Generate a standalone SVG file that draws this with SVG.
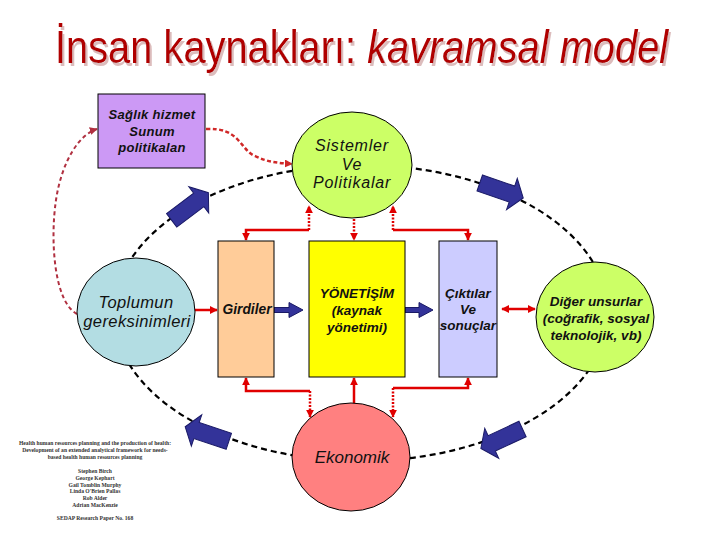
<svg xmlns="http://www.w3.org/2000/svg" width="720" height="540" viewBox="0 0 720 540">
<defs>
<style>
.node{stroke:#000;stroke-width:1}
.t{font-family:"Liberation Sans",Arial,sans-serif;font-style:italic;text-anchor:middle;fill:#111}
.b{font-weight:bold}
.red{fill:none;stroke:#e00000;stroke-width:2.5}
.dot{fill:none;stroke:#e00000;stroke-width:2.5;stroke-dasharray:2 1.5}
.blk{fill:#333399;stroke:#1a1a66;stroke-width:1}
.cite{font-family:"Liberation Serif","Times New Roman",serif;font-weight:bold;font-size:5.6px;text-anchor:middle;fill:#333}
</style>
<filter id="shadow" x="-5%" y="-20%" width="110%" height="150%">
<feOffset in="SourceAlpha" dx="2" dy="3" result="o"/>
<feFlood flood-color="#dcbcbc"/>
<feComposite in2="o" operator="in" result="s"/>
<feMerge><feMergeNode in="s"/><feMergeNode in="SourceGraphic"/></feMerge>
</filter>
<marker id="ar" viewBox="0 0 10 10" refX="9" refY="5" markerWidth="8" markerHeight="8" markerUnits="userSpaceOnUse" orient="auto"><path d="M0,0 L10,5 L0,10 z" fill="#e00000"/></marker>
<marker id="ar2" viewBox="0 0 10 10" refX="9" refY="5" markerWidth="8" markerHeight="8" markerUnits="userSpaceOnUse" orient="auto"><path d="M0,0 L10,5 L0,10 z" fill="#b03040"/></marker>
<marker id="ar3" viewBox="0 0 10 10" refX="9" refY="5" markerWidth="8" markerHeight="8" markerUnits="userSpaceOnUse" orient="auto"><path d="M0,0 L10,5 L0,10 z" fill="#d02828"/></marker>
<path id="barrow" d="M-23,-8.5 L11,-8.5 L11,-16.5 L23,0 L11,16.5 L11,8.5 L-23,8.5 Z"/>
</defs>
<rect width="720" height="540" fill="#fff"/>

<g id="title" font-family="Liberation Sans,Arial,sans-serif" font-size="46" filter="url(#shadow)">
<text transform="translate(55,63) scale(0.866,1)" fill="#b00000">İnsan kaynakları: <tspan font-style="italic">kavramsal model</tspan></text>
</g>

<g id="cycle">
<ellipse cx="361" cy="313" rx="247" ry="148" fill="none" stroke="#000" stroke-width="2.2" stroke-dasharray="6 4"/>
<use href="#barrow" class="blk" transform="translate(190,206.5) rotate(-37)"/>
<use href="#barrow" class="blk" transform="translate(501.5,190.5) rotate(19)"/>
<use href="#barrow" class="blk" transform="translate(501.7,438.7) rotate(155)"/>
<use href="#barrow" class="blk" transform="translate(207,434) rotate(198.4)"/>
</g>

<g id="connectors">
<path d="M77,314 C54,302 50,240 56,200 C62,160 80,134 97,129" fill="none" stroke="#b03040" stroke-width="2" stroke-dasharray="4 3" marker-end="url(#ar2)"/>
<path d="M206,129 C240,127 240,150 255,156 C267,162 278,163 292,164" fill="none" stroke="#d02828" stroke-width="2.5" stroke-dasharray="4 2.5" marker-end="url(#ar3)"/>
<path class="red" d="M195,310 H217" marker-end="url(#ar)"/>
<path class="red" d="M519,309 H535" marker-end="url(#ar)"/>
<path class="red" d="M519,309 H502" marker-end="url(#ar)"/>
<path class="blk" d="M274,307.5 H289 V302.5 L303,310 L289,317.5 V312.5 H274 Z"/>
<path class="blk" d="M405,307.5 H419 V302.5 L433,310 L419,317.5 V312.5 H405 Z"/>
<path class="red" d="M309,230 H246 V240" marker-end="url(#ar)"/>
<path class="dot" d="M309,230 V206" marker-end="url(#ar)"/>
<path class="dot" d="M354,219 V240" marker-end="url(#ar)"/>
<path class="red" d="M393,230 H468 V240" marker-end="url(#ar)"/>
<path class="dot" d="M393,230 V206" marker-end="url(#ar)"/>
<path class="red" d="M310,391 H246 V378" marker-end="url(#ar)"/>
<path class="dot" d="M310,391 V417" marker-end="url(#ar)"/>
<path class="red" d="M354,403 V378" marker-end="url(#ar)"/>
<path class="red" d="M393,388 H468 V378" marker-end="url(#ar)"/>
<path class="dot" d="M393,388 V417" marker-end="url(#ar)"/>
</g>

<g id="saglik">
<rect class="node" x="98" y="94" width="107" height="74" fill="#cc99f5"/>
<text class="t b" font-size="13" letter-spacing="0.3"><tspan x="152" y="119">Sağlık hizmet</tspan><tspan x="152" y="136">Sunum</tspan><tspan x="152" y="152">politikalan</tspan></text>
</g>

<g id="sistemler">
<ellipse class="node" cx="352" cy="165" rx="60" ry="53" fill="#ccff66"/>
<text class="t" font-size="16" letter-spacing="0.8"><tspan x="352" y="151">Sistemler</tspan><tspan x="352" y="170">Ve</tspan><tspan x="352" y="188">Politikalar</tspan></text>
</g>

<g id="toplumun">
<ellipse class="node" cx="136" cy="312" rx="59" ry="54" fill="#b3dde3"/>
<text class="t" font-size="16.5" letter-spacing="0.4"><tspan x="136" y="308">Toplumun</tspan><tspan x="137" y="327">gereksinimleri</tspan></text>
</g>

<g id="girdiler">
<rect class="node" x="218" y="241" width="56" height="136" fill="#ffcc99"/>
<text class="t b" font-size="13.8" x="247" y="314">Girdiler</text>
</g>

<g id="yonetisim">
<rect class="node" x="309" y="241" width="96" height="136" fill="#ffff00"/>
<text class="t b" font-size="13.5"><tspan x="357" y="298">YÖNETİŞİM</tspan><tspan x="357" y="315">(kaynak</tspan><tspan x="357" y="332">yönetimi)</tspan></text>
</g>

<g id="ciktilar">
<rect class="node" x="439" y="241" width="58" height="136" fill="#ccccff"/>
<text class="t b" font-size="13.5"><tspan x="468" y="298">Çıktılar</tspan><tspan x="468" y="314">Ve</tspan><tspan x="468" y="330">sonuçlar</tspan></text>
</g>

<g id="diger">
<ellipse class="node" cx="595" cy="317" rx="59" ry="55" fill="#ccff66"/>
<text class="t b" font-size="13.5"><tspan x="596" y="306">Diğer unsurlar</tspan><tspan x="596" y="323">(coğrafik, sosyal</tspan><tspan x="596" y="340">teknolojik, vb)</tspan></text>
</g>

<g id="ekonomik">
<ellipse class="node" cx="351" cy="457" rx="59" ry="54" fill="#ff8080"/>
<text class="t" font-size="17" x="352" y="463">Ekonomik</text>
</g>

<g id="citation">
<text class="cite"><tspan x="95" y="445">Health human resources planning and the production of health:</tspan><tspan x="95" y="452">Development of an extended analytical framework for needs-</tspan><tspan x="95" y="459">based health human resources planning</tspan><tspan x="95" y="473">Stephen Birch</tspan><tspan x="95" y="480">George Kephart</tspan><tspan x="95" y="487">Gail Tomblin Murphy</tspan><tspan x="95" y="493">Linda O'Brien Pallas</tspan><tspan x="95" y="500">Rob Alder</tspan><tspan x="95" y="507">Adrian MacKenzie</tspan><tspan x="95" y="520">SEDAP Research Paper No. 168</tspan></text>
</g>
</svg>
